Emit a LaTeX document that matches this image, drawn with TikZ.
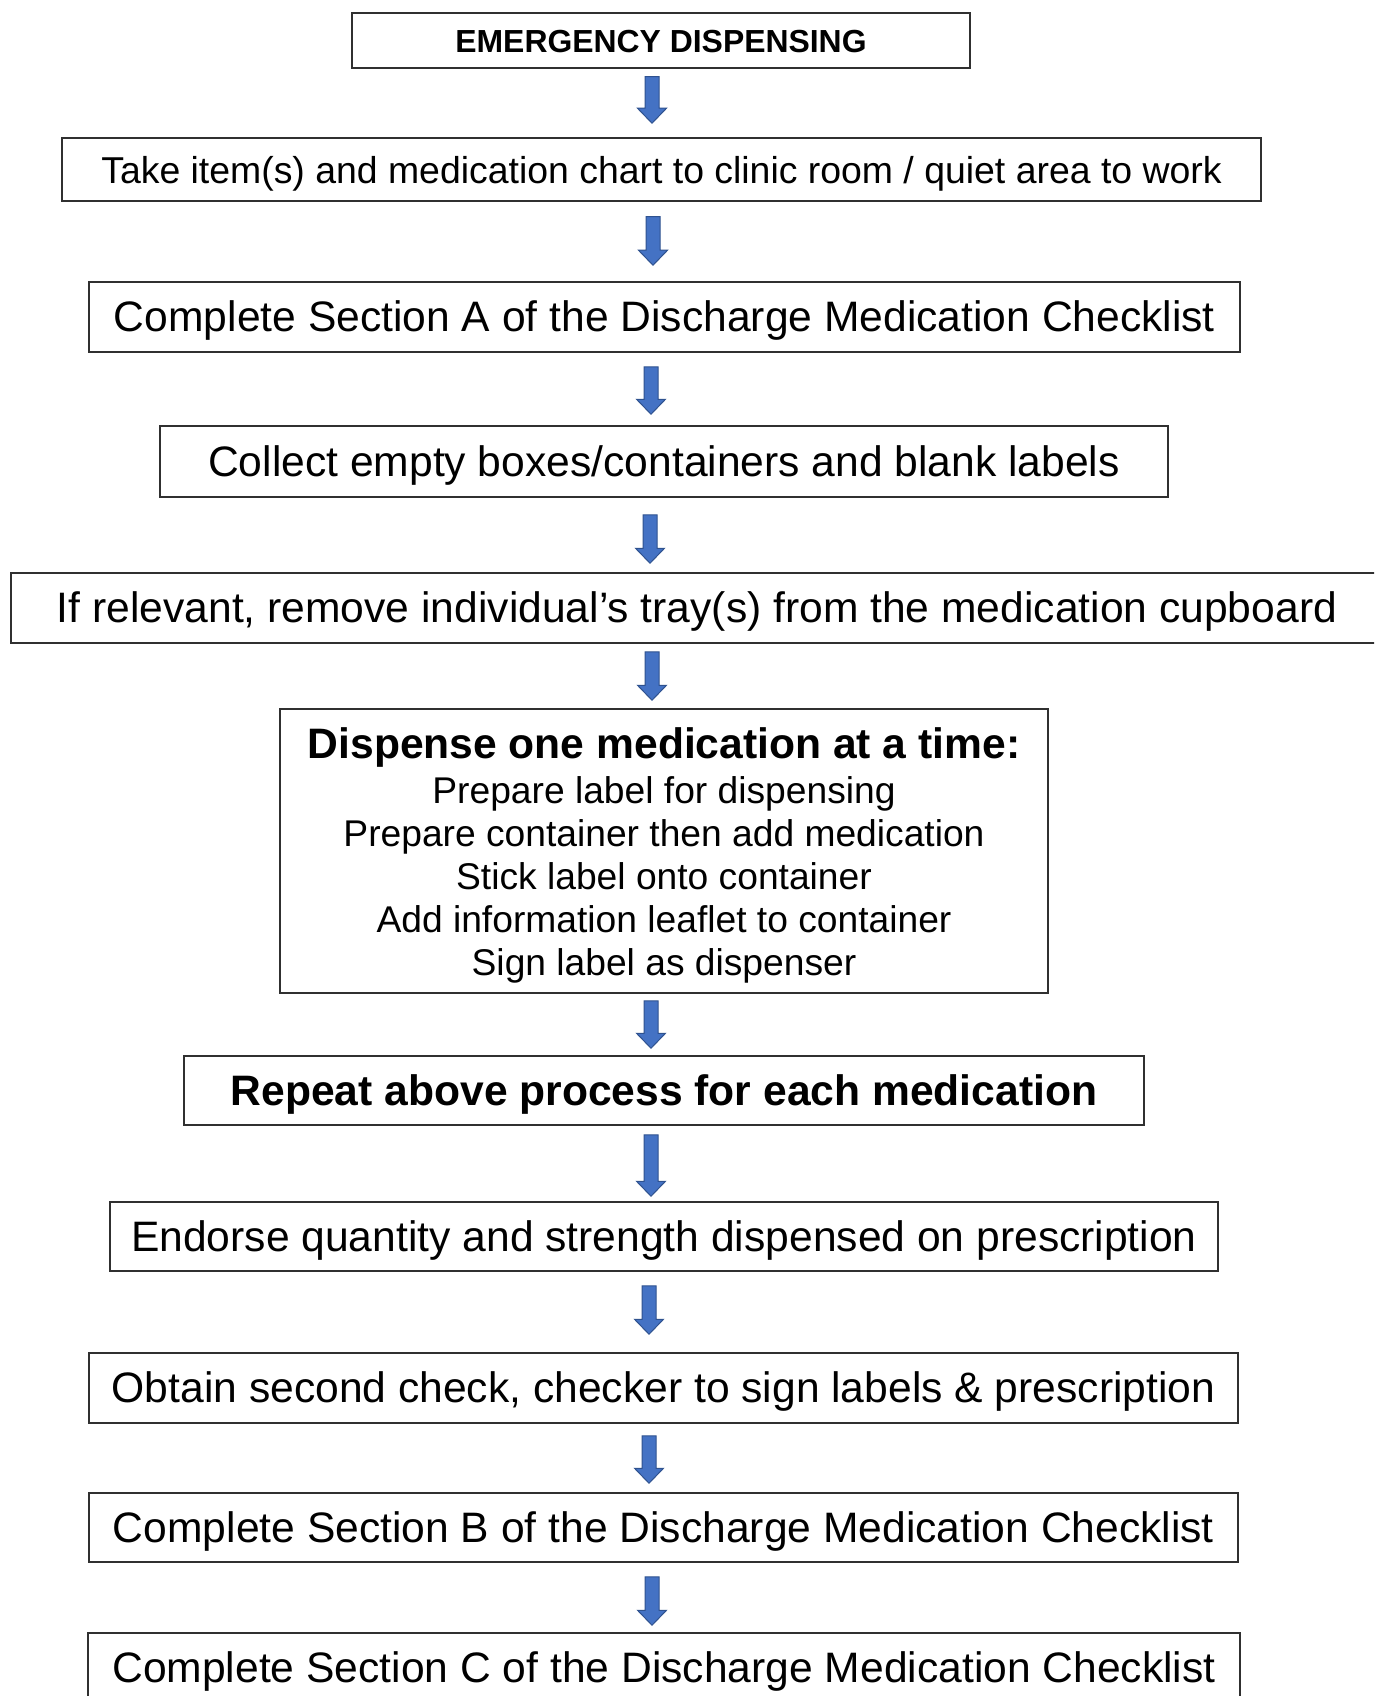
\documentclass[tikz,border=0pt]{standalone}
\usepackage{fontspec}
\setmainfont{Liberation Sans}
\usetikzlibrary{calc}
\definecolor{arrowfill}{HTML}{4472C4}
\definecolor{arrowedge}{HTML}{2F528F}
\definecolor{boxline}{HTML}{303030}
\newcommand\lowtext[2][3.6pt]{\raisebox{-#1}[\height][\depth]{#2}}
\begin{document}
\begin{tikzpicture}[x=1pt,y=-1pt,
  stepbox/.style={draw=boxline, line width=1.5pt, inner sep=0pt, text=black},
  body/.style={font=\fontsize{42.6}{51}\selectfont},
  bodybold/.style={font=\fontsize{42.6}{51}\selectfont\bfseries},
  blockarrow/.style={draw=arrowedge, fill=arrowfill, line width=1pt,
    to path={let \p1=(\tikztostart), \p2=(\tikztotarget) in
      (\x1-7pt,\y1) -- (\x1+7pt,\y1) -- (\x1+7pt,\y2+15pt) -- (\x1+14.5pt,\y2+15pt)
      -- (\x1,\y2) -- (\x1-14.5pt,\y2+15pt) -- (\x1-7pt,\y2+15pt) -- cycle}}]
\useasboundingbox (0,0) rectangle (1374,1696);
\clip (0,0) rectangle (1374,1696);
\fill[white] (0,0) rectangle (1374,1696);

\node[stepbox, minimum width=618pt, minimum height=55pt, font=\fontsize{31.9}{38}\selectfont\bfseries] (b1) at (661,40.5) {\lowtext[1.5pt]{EMERGENCY DISPENSING}};
\node[stepbox, minimum width=1199pt, minimum height=63pt, font=\fontsize{37.4}{44}\selectfont] (b2) at (661.5,169.5) {\lowtext[4pt]{Take item(s) and medication chart to clinic room / quiet area to work}};
\node[stepbox, body, minimum width=1151pt, minimum height=70pt] (b3) at (664.5,317) {\lowtext{Complete Section A of the Discharge Medication Checklist}};
\node[stepbox, body, minimum width=1008pt, minimum height=71pt] (b4) at (664,461.5) {\lowtext{Collect empty boxes/containers and blank labels}};
\node[stepbox, body, minimum width=1372pt, minimum height=70pt] (b5) at (697,608) {\lowtext{If relevant, remove individual’s tray(s) from the medication cupboard}};
\node[stepbox, minimum width=768pt, minimum height=284pt] (b6) at (664,851) {};
\node[inner sep=0pt, align=center, font=\fontsize{37.2}{43}\selectfont] (b6text) at ($(b6.center)+(0,4)$)
  {{\fontsize{42.6}{48}\selectfont\bfseries Dispense one medication at a time:}\\[2pt]
   Prepare label for dispensing\\
   Prepare container then add medication\\
   Stick label onto container\\
   Add information leaflet to container\\
   Sign label as dispenser};
\node[stepbox, bodybold, minimum width=960pt, minimum height=69pt] (b7) at (664,1090.5) {\lowtext{Repeat above process for each medication}};
\node[stepbox, body, minimum width=1108pt, minimum height=69pt] (b8) at (664,1236.5) {\lowtext{Endorse quantity and strength dispensed on prescription}};
\node[stepbox, body, minimum width=1149pt, minimum height=70pt] (b9) at (663.5,1388) {\lowtext{Obtain second check, checker to sign labels \& prescription}};
\node[stepbox, body, minimum width=1149pt, minimum height=69pt] (b10) at (663.5,1527.5) {\lowtext{Complete Section B of the Discharge Medication Checklist}};
\node[stepbox, body, minimum width=1152pt, minimum height=70pt] (b11) at (664,1668) {\lowtext{Complete Section C of the Discharge Medication Checklist}};

\draw[blockarrow] ($(b1.south -| 652,0)+(0,8)$) to ($(b2.north -| 652,0)+(0,-14)$);
\draw[blockarrow] ($(b2.south -| 653,0)+(0,15)$) to ($(b3.north -| 653,0)+(0,-16)$);
\draw[blockarrow] ($(b3.south -| 651,0)+(0,14)$) to ($(b4.north -| 651,0)+(0,-11)$);
\draw[blockarrow] ($(b4.south -| 650,0)+(0,17)$) to ($(b5.north -| 650,0)+(0,-9)$);
\draw[blockarrow] ($(b5.south -| 652,0)+(0,8)$) to ($(b6.north -| 652,0)+(0,-8)$);
\draw[blockarrow] ($(b6.south -| 651,0)+(0,7)$) to ($(b7.north -| 651,0)+(0,-7)$);
\draw[blockarrow] ($(b7.south -| 651,0)+(0,9)$) to ($(b8.north -| 651,0)+(0,-5)$);
\draw[blockarrow] ($(b8.south -| 649,0)+(0,14)$) to ($(b9.north -| 649,0)+(0,-18)$);
\draw[blockarrow] ($(b9.south -| 649,0)+(0,12)$) to ($(b10.north -| 649,0)+(0,-9)$);
\draw[blockarrow] ($(b10.south -| 652,0)+(0,14)$) to ($(b11.north -| 652,0)+(0,-7)$);
\end{tikzpicture}
\end{document}
